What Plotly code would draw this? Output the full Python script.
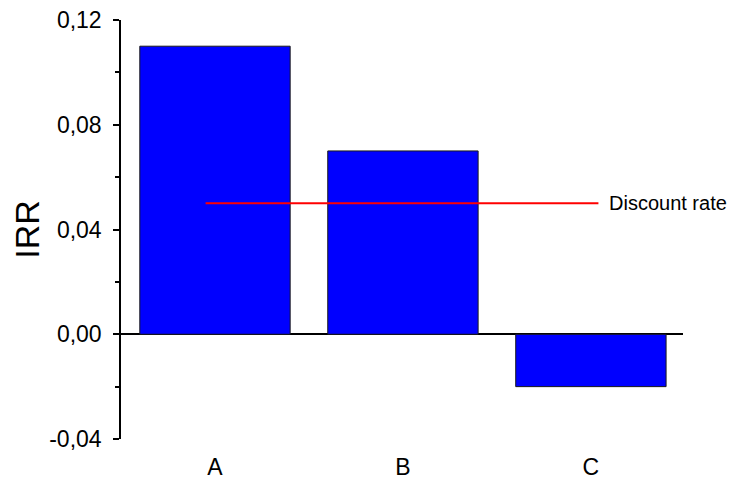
import plotly.graph_objects as go

categories = ["A", "B", "C"]
irr_values = [0.11, 0.07, -0.02]
discount_rate = 0.05
discount_label = "Discount rate"
y_tick_values = [-0.04, 0.0, 0.04, 0.08, 0.12]
y_tick_labels = ["-0,04", "0,00", "0,04", "0,08", "0,12"]

xpos = list(range(len(categories)))

fig = go.Figure()
fig.add_trace(go.Bar(
    x=xpos, y=irr_values, width=0.8,
    marker=dict(color="#0000FF", line=dict(color="#1a1a1a", width=1)),
    showlegend=False,
))
line_x = [-0.05, 2.04]
fig.add_trace(go.Scatter(
    x=line_x, y=[discount_rate, discount_rate], mode="lines",
    line=dict(color="#FF0000", width=2), showlegend=False,
))
fig.add_annotation(
    x=line_x[1], y=discount_rate, xref="x", yref="y",
    text=discount_label, showarrow=False, xanchor="left", yanchor="middle",
    xshift=9, font=dict(family="Arial, Liberation Sans", size=20, color="black"),
)

fig.update_layout(
    width=728, height=471,
    margin=dict(l=113, r=53, t=12, b=40, autoexpand=False),
    plot_bgcolor="white", paper_bgcolor="white",
    font=dict(family="Arial, Liberation Sans", color="black"),
    xaxis=dict(
        range=[-0.5, 2.49], tickvals=xpos, ticktext=categories,
        showline=False, showgrid=False, zeroline=False, ticks="",
        tickfont=dict(size=23), ticklabelstandoff=12, automargin=False,
        ticklabeloverflow="allow",
    ),
    yaxis=dict(
        range=[-0.04, 0.12], tickvals=y_tick_values, ticktext=y_tick_labels,
        showline=True, linecolor="black", linewidth=1.5,
        ticks="outside", ticklen=6, tickwidth=1.5, tickcolor="black",
        minor=dict(dtick=0.02, ticks="outside", ticklen=4, tickwidth=1.5, tickcolor="black", tick0=0),
        showgrid=False, zeroline=True, zerolinecolor="black", zerolinewidth=1.5,
        tickfont=dict(size=23), ticklabelstandoff=7, automargin=False,
        ticklabeloverflow="allow",
        title=dict(text="IRR", font=dict(size=34), standoff=2),
    ),
)

fig.write_html("out.html")
